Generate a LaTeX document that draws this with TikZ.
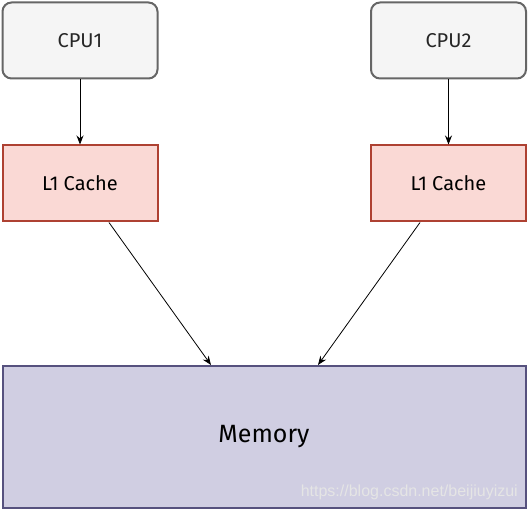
\documentclass[tikz,border=0pt]{standalone}
\usepackage{fontspec}
\setmainfont{Fira Sans}
\newfontfamily\wmfont{Liberation Sans}
\usetikzlibrary{arrows.meta,positioning,calc}
\definecolor{cpuFill}{HTML}{F5F5F5}
\definecolor{cpuLine}{HTML}{666666}
\definecolor{cacheFill}{HTML}{FAD9D5}
\definecolor{cacheLine}{HTML}{AE4132}
\definecolor{memFill}{HTML}{D0CEE2}
\definecolor{memLine}{HTML}{56517E}
\tikzset{
  >={Stealth[length=9pt,width=7pt]},
  cpu/.style  ={rectangle,rounded corners=9pt,draw=cpuLine,fill=cpuFill,line width=2pt,
                minimum width=155pt,minimum height=76pt,font=\fontsize{20}{22}\selectfont,text=black!85},
  cache/.style={rectangle,draw=cacheLine,fill=cacheFill,line width=2pt,
                minimum width=155pt,minimum height=76pt,font=\fontsize{20}{22}\selectfont},
  mem/.style  ={rectangle,draw=memLine,fill=memFill,line width=2pt,
                minimum width=523pt,minimum height=142pt,font=\fontsize{25}{27}\selectfont},
  link/.style ={->,line width=0.8pt,black},
}
\begin{document}
\begin{tikzpicture}[x=1pt,y=-1pt]
  \useasboundingbox (0,0) rectangle (528,510);
  \node[cpu]   (cpu1) at (80,40.5)    {CPU1};
  \node[cpu]   (cpu2) at (448.5,40.5) {CPU2};
  \node[cache] (l1a)  at (80,183.5)   {L1 Cache};
  \node[cache] (l1b)  at (448.5,183.5){L1 Cache};
  \node[mem]   (mem)  at (264,437)    {Memory};
  \node[anchor=base east,font=\wmfont\fontsize{16}{18}\selectfont,text=white!80!gray,inner sep=0pt]
        (wm) at (518,497) {https://blog.csdn.net/beijiuyizui};

  \draw[link] (cpu1) -- (l1a);
  \draw[link] (cpu2) -- (l1b);
  \draw[link] ([xshift=29pt]l1a.south) -- ([xshift=-53pt]mem.north);
  \draw[link] ([xshift=-28.5pt]l1b.south) -- ([xshift=54pt]mem.north);
\end{tikzpicture}
\end{document}
